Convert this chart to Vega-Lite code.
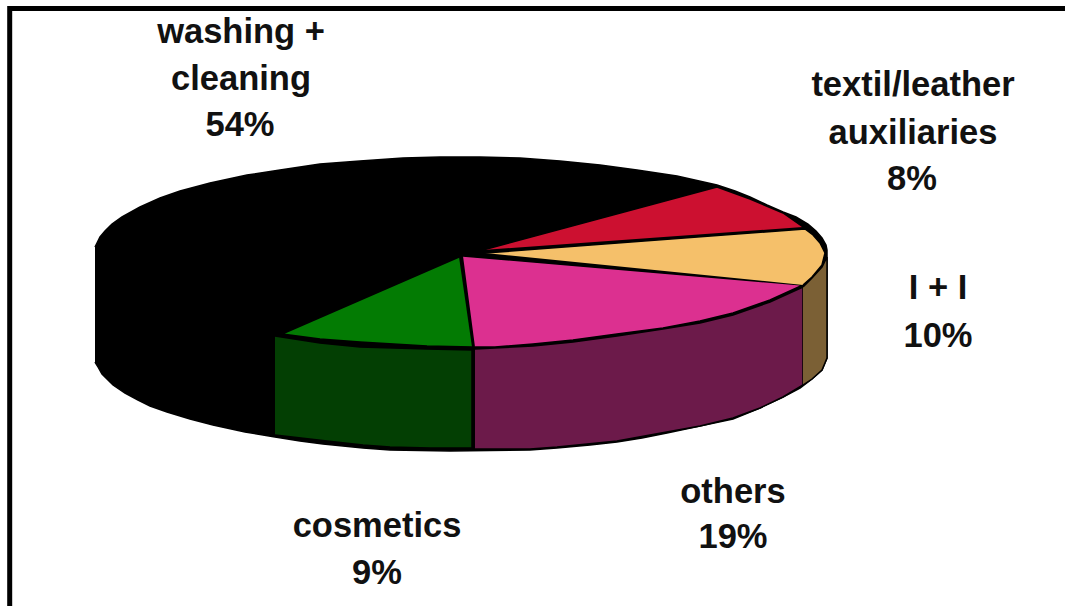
{"$schema":"https://vega.github.io/schema/vega-lite/v6.json","width":1065,"height":606,"padding":0,"autosize":{"type":"none"},"background":"white","view":{"stroke":null},
"datasets":{
"faces":[
{"part":"body","s":1,"x":95,"y":247},{"part":"body","s":2,"x":97,"y":243},{"part":"body","s":3,"x":100,"y":237},{"part":"body","s":4,"x":105,"y":231},{"part":"body","s":5,"x":112,"y":224},{"part":"body","s":6,"x":122,"y":217},{"part":"body","s":7,"x":140,"y":207},{"part":"body","s":8,"x":160,"y":198},{"part":"body","s":9,"x":180,"y":191},{"part":"body","s":10,"x":210,"y":183},{"part":"body","s":11,"x":247,"y":175},{"part":"body","s":12,"x":280,"y":170},{"part":"body","s":13,"x":320,"y":164},{"part":"body","s":14,"x":360,"y":161},{"part":"body","s":15,"x":403,"y":158},{"part":"body","s":16,"x":440,"y":157},{"part":"body","s":17,"x":480,"y":157},{"part":"body","s":18,"x":520,"y":158},{"part":"body","s":19,"x":560,"y":161},{"part":"body","s":20,"x":600,"y":165},{"part":"body","s":21,"x":637,"y":170},{"part":"body","s":22,"x":677,"y":176},{"part":"body","s":23,"x":717,"y":185},{"part":"body","s":24,"x":735,"y":191},{"part":"body","s":25,"x":750,"y":197},{"part":"body","s":26,"x":767,"y":205},{"part":"body","s":27,"x":783,"y":212},{"part":"body","s":28,"x":796,"y":217},{"part":"body","s":29,"x":808,"y":224},{"part":"body","s":30,"x":816,"y":231},{"part":"body","s":31,"x":822,"y":238},{"part":"body","s":32,"x":826,"y":245},{"part":"body","s":33,"x":827,"y":250},{"part":"body","s":34,"x":827,"y":358},{"part":"body","s":35,"x":822,"y":370},{"part":"body","s":36,"x":812,"y":379},{"part":"body","s":37,"x":800,"y":388},{"part":"body","s":38,"x":783,"y":397},{"part":"body","s":39,"x":760,"y":408},{"part":"body","s":40,"x":733,"y":419},{"part":"body","s":41,"x":700,"y":426},{"part":"body","s":42,"x":667,"y":433},{"part":"body","s":43,"x":642,"y":438},{"part":"body","s":44,"x":617,"y":442},{"part":"body","s":45,"x":590,"y":445},{"part":"body","s":46,"x":557,"y":448},{"part":"body","s":47,"x":530,"y":450},{"part":"body","s":48,"x":450,"y":451},{"part":"body","s":49,"x":390,"y":450},{"part":"body","s":50,"x":363,"y":448},{"part":"body","s":51,"x":323,"y":444},{"part":"body","s":52,"x":300,"y":441},{"part":"body","s":53,"x":275,"y":437},{"part":"body","s":54,"x":245,"y":432},{"part":"body","s":55,"x":213,"y":425},{"part":"body","s":56,"x":190,"y":419},{"part":"body","s":57,"x":167,"y":412},{"part":"body","s":58,"x":150,"y":406},{"part":"body","s":59,"x":138,"y":400},{"part":"body","s":60,"x":125,"y":393},{"part":"body","s":61,"x":113,"y":385},{"part":"body","s":62,"x":108,"y":380},{"part":"body","s":63,"x":102,"y":374},{"part":"body","s":64,"x":98,"y":367},{"part":"body","s":65,"x":95,"y":362},
{"part":"cosmetics side","s":1,"x":275,"y":336},{"part":"cosmetics side","s":2,"x":320,"y":343},{"part":"cosmetics side","s":3,"x":360,"y":347},{"part":"cosmetics side","s":4,"x":427,"y":349},{"part":"cosmetics side","s":5,"x":472,"y":350},{"part":"cosmetics side","s":6,"x":472,"y":448},{"part":"cosmetics side","s":7,"x":430,"y":448},{"part":"cosmetics side","s":8,"x":390,"y":447},{"part":"cosmetics side","s":9,"x":363,"y":445},{"part":"cosmetics side","s":10,"x":327,"y":441},{"part":"cosmetics side","s":11,"x":275,"y":435},
{"part":"others side","s":1,"x":475,"y":349},{"part":"others side","s":2,"x":533,"y":346},{"part":"others side","s":3,"x":573,"y":342},{"part":"others side","s":4,"x":617,"y":336},{"part":"others side","s":5,"x":663,"y":329},{"part":"others side","s":6,"x":700,"y":323},{"part":"others side","s":7,"x":733,"y":315},{"part":"others side","s":8,"x":770,"y":302},{"part":"others side","s":9,"x":803,"y":287},{"part":"others side","s":10,"x":803,"y":385},{"part":"others side","s":11,"x":783,"y":397},{"part":"others side","s":12,"x":760,"y":408},{"part":"others side","s":13,"x":733,"y":418},{"part":"others side","s":14,"x":700,"y":426},{"part":"others side","s":15,"x":650,"y":435},{"part":"others side","s":16,"x":617,"y":441},{"part":"others side","s":17,"x":557,"y":447},{"part":"others side","s":18,"x":530,"y":449},{"part":"others side","s":19,"x":475,"y":449},
{"part":"i+i side","s":1,"x":803,"y":287},{"part":"i+i side","s":2,"x":812,"y":278},{"part":"i+i side","s":3,"x":822,"y":267},{"part":"i+i side","s":4,"x":827,"y":257},{"part":"i+i side","s":5,"x":827,"y":358},{"part":"i+i side","s":6,"x":822,"y":370},{"part":"i+i side","s":7,"x":812,"y":379},{"part":"i+i side","s":8,"x":803,"y":385},
{"part":"cosmetics","s":1,"x":459,"y":257},{"part":"cosmetics","s":2,"x":282,"y":334},{"part":"cosmetics","s":3,"x":320,"y":339},{"part":"cosmetics","s":4,"x":360,"y":342},{"part":"cosmetics","s":5,"x":427,"y":346},{"part":"cosmetics","s":6,"x":472,"y":347},
{"part":"others","s":1,"x":463,"y":256},{"part":"others","s":2,"x":803,"y":285},{"part":"others","s":3,"x":770,"y":300},{"part":"others","s":4,"x":733,"y":313},{"part":"others","s":5,"x":700,"y":321},{"part":"others","s":6,"x":663,"y":328},{"part":"others","s":7,"x":617,"y":334},{"part":"others","s":8,"x":573,"y":340},{"part":"others","s":9,"x":533,"y":344},{"part":"others","s":10,"x":495,"y":347},{"part":"others","s":11,"x":475,"y":347},
{"part":"i+i","s":1,"x":485,"y":253},{"part":"i+i","s":2,"x":805,"y":229},{"part":"i+i","s":3,"x":813,"y":235},{"part":"i+i","s":4,"x":820,"y":243},{"part":"i+i","s":5,"x":825,"y":253},{"part":"i+i","s":6,"x":822,"y":265},{"part":"i+i","s":7,"x":812,"y":277},{"part":"i+i","s":8,"x":803,"y":285},
{"part":"textil","s":1,"x":483,"y":250},{"part":"textil","s":2,"x":717,"y":187},{"part":"textil","s":3,"x":750,"y":199},{"part":"textil","s":4,"x":783,"y":213},{"part":"textil","s":5,"x":803,"y":227}
],
"frame":[{"s":1,"x":9.7,"y":606},{"s":2,"x":9.7,"y":8.5},{"s":3,"x":1065,"y":8.5}],
"labels":[
{"t":"washing +","x":241,"y":43},{"t":"cleaning","x":241,"y":90},{"t":"54%","x":240,"y":136},
{"t":"textil/leather","x":913,"y":96},{"t":"auxiliaries","x":913,"y":144},{"t":"8%","x":912,"y":190},
{"t":"I + I","x":938,"y":299},{"t":"10%","x":938,"y":347},
{"t":"others","x":733,"y":503},{"t":"19%","x":733,"y":548},
{"t":"cosmetics","x":377,"y":537},{"t":"9%","x":377,"y":584}
]},
"layer":[
{"data":{"name":"faces"},"mark":{"type":"line","stroke":"black","strokeWidth":1.5,"strokeJoin":"miter"},
"encoding":{"x":{"field":"x","type":"quantitative","scale":{"domain":[0,1065],"nice":false,"zero":false},"axis":null},"y":{"field":"y","type":"quantitative","scale":{"domain":[0,606],"reverse":true,"nice":false,"zero":false},"axis":null},"order":{"field":"s"},
"fill":{"field":"part","type":"nominal","sort":null,"legend":null,"scale":{"domain":["body","cosmetics side","others side","i+i side","cosmetics","others","i+i","textil"],"range":["#000000","#033f03","#6c1a4a","#7b6035","#037b03","#dc3090","#f5c06a","#cc1030"]}}}},
{"data":{"name":"frame"},"mark":{"type":"line","stroke":"black","strokeWidth":5,"strokeCap":"butt","strokeJoin":"miter"},
"encoding":{"x":{"field":"x","type":"quantitative","scale":{"domain":[0,1065],"nice":false,"zero":false},"axis":null},"y":{"field":"y","type":"quantitative","scale":{"domain":[0,606],"reverse":true,"nice":false,"zero":false},"axis":null},"order":{"field":"s"}}},
{"data":{"name":"labels"},"mark":{"type":"text","font":"Liberation Sans","fontWeight":"bold","fontSize":34.5,"align":"center","baseline":"alphabetic","fill":"#111111"},
"encoding":{"x":{"field":"x","type":"quantitative","scale":{"domain":[0,1065],"nice":false,"zero":false},"axis":null},"y":{"field":"y","type":"quantitative","scale":{"domain":[0,606],"reverse":true,"nice":false,"zero":false},"axis":null},"text":{"field":"t"}}}
]}
